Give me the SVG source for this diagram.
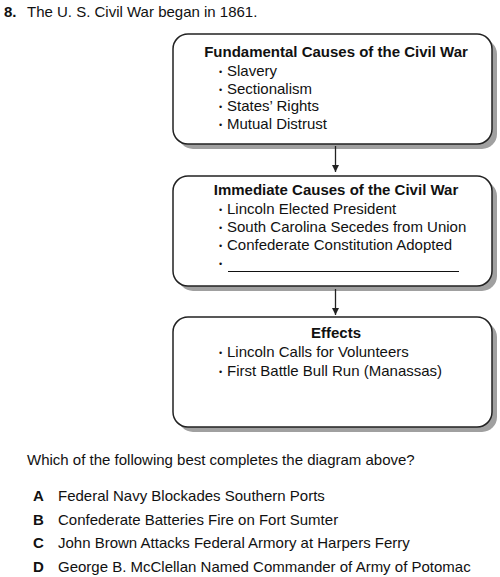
<svg xmlns="http://www.w3.org/2000/svg" width="500" height="577" viewBox="0 0 500 577">
<defs>
<marker id="ah" viewBox="0 0 10 10" refX="10" refY="5" markerWidth="7" markerHeight="7" markerUnits="userSpaceOnUse" orient="auto"><path d="M0,0 L10,5 L0,10 z" fill="#222"/></marker>
</defs>
<style>
text{font-family:"Liberation Sans",Arial,sans-serif;fill:#111;font-size:15px}
.b{font-weight:bold}
.t{font-weight:bold;text-anchor:middle}
.box{fill:#fff;stroke:#222;stroke-width:1.5}
.sh{fill:#a0a0a0}
.bl{font-size:9px}
</style>
<rect width="500" height="577" fill="#fff"/>
<text class="b" x="4" y="17">8.</text>
<text x="27" y="17">The U. S. Civil War began in 1861.</text>
<g id="n1">
<rect class="sh" x="178" y="39" width="319" height="110" rx="15"/>
<rect class="box" x="173" y="34" width="319" height="110" rx="15"/>
<text class="t" x="336" y="57">Fundamental Causes of the Civil War</text>
<text class="bl" x="219" y="74.5">•</text><text x="227" y="76">Slavery</text>
<text class="bl" x="219" y="92.5">•</text><text x="227" y="94">Sectionalism</text>
<text class="bl" x="219" y="109.5">•</text><text x="227" y="111">States’ Rights</text>
<text class="bl" x="219" y="127.5">•</text><text x="227" y="129">Mutual Distrust</text>
</g>
<g id="n2">
<rect class="sh" x="178" y="181" width="319" height="110" rx="15"/>
<rect class="box" x="173" y="176" width="319" height="110" rx="15"/>
<text class="t" x="336" y="195">Immediate Causes of the Civil War</text>
<text class="bl" x="219" y="212.5">•</text><text x="227" y="214">Lincoln Elected President</text>
<text class="bl" x="219" y="230.5">•</text><text x="227" y="232">South Carolina Secedes from Union</text>
<text class="bl" x="219" y="248.5">•</text><text x="227" y="250">Confederate Constitution Adopted</text>
<text class="bl" x="219" y="266.5">•</text>
<line x1="228" y1="271.5" x2="459" y2="271.5" stroke="#111" stroke-width="1.2"/>
</g>
<g id="n3">
<rect class="sh" x="178" y="322" width="319" height="110" rx="15"/>
<rect class="box" x="173" y="317" width="319" height="110" rx="15"/>
<text class="t" x="336" y="338">Effects</text>
<text class="bl" x="219" y="355.5">•</text><text x="227" y="357">Lincoln Calls for Volunteers</text>
<text class="bl" x="219" y="374.5">•</text><text x="227" y="376">First Battle Bull Run (Manassas)</text>
</g>
<g id="connectors" stroke="#222" stroke-width="1.3">
<line x1="335.5" y1="146" x2="335.5" y2="172" marker-end="url(#ah)"/>
<line x1="335.5" y1="289" x2="335.5" y2="315" marker-end="url(#ah)"/>
</g>
<text x="27" y="465">Which of the following best completes the diagram above?</text>
<text class="b" x="33" y="501">A</text>
<text x="58" y="501">Federal Navy Blockades Southern Ports</text>
<text class="b" x="33" y="525">B</text>
<text x="58" y="525">Confederate Batteries Fire on Fort Sumter</text>
<text class="b" x="33" y="548">C</text>
<text x="58" y="548">John Brown Attacks Federal Armory at Harpers Ferry</text>
<text class="b" x="33" y="572">D</text>
<text x="58" y="572">George B. McClellan Named Commander of Army of Potomac</text>
</svg>
